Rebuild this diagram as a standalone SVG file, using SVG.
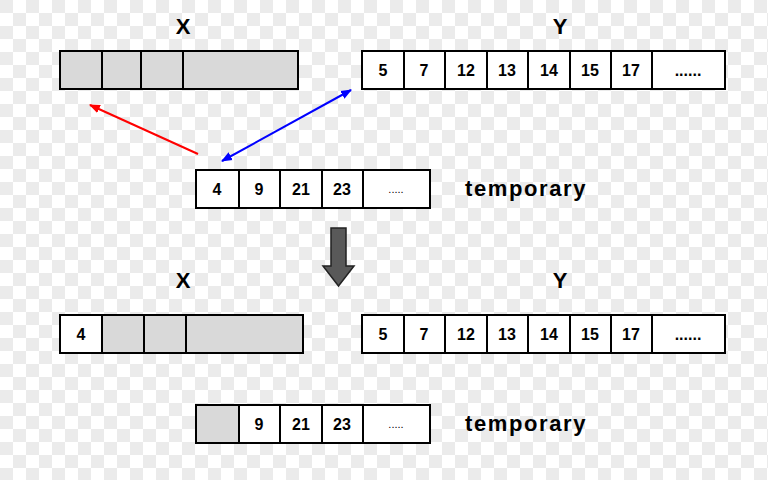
<svg xmlns="http://www.w3.org/2000/svg" width="768" height="480" viewBox="0 0 768 480">
<defs>
<pattern id="chk" width="26" height="26" patternUnits="userSpaceOnUse">
<rect width="26" height="26" fill="#fff"/>
<rect width="13" height="13" fill="#ebebeb"/>
<rect x="13" y="13" width="13" height="13" fill="#ebebeb"/>
</pattern>
<marker id="ar" viewBox="0 0 10 10" refX="9" refY="5" markerWidth="11" markerHeight="11" markerUnits="userSpaceOnUse" orient="auto-start-reverse"><path d="M0,1 L10,5 L0,9 z" fill="red"/></marker>
<marker id="ab" viewBox="0 0 10 10" refX="9" refY="5" markerWidth="11" markerHeight="11" markerUnits="userSpaceOnUse" orient="auto-start-reverse"><path d="M0,1 L10,5 L0,9 z" fill="blue"/></marker>
</defs>
<style>
.c{stroke:#000;stroke-width:2;fill:#fff}
.g{stroke:#000;stroke-width:2;fill:#d9d9d9}
.t{font-family:"Liberation Sans",Arial,sans-serif;font-weight:bold;font-size:16px;text-anchor:middle;dominant-baseline:central}
.d{font-family:"Liberation Sans",Arial,sans-serif;font-size:11px;text-anchor:middle;dominant-baseline:central}
.h{font-family:"Liberation Sans",Arial,sans-serif;font-weight:bold;font-size:22px;text-anchor:middle}
.l{font-family:"Liberation Sans",Arial,sans-serif;font-weight:bold;font-size:22px;letter-spacing:1.6px}
</style>
<rect width="768" height="480" fill="url(#chk)"/>
<text class="h" x="183" y="34">X</text>
<text class="h" x="560" y="34">Y</text>
<g id="x1">
<rect class="g" x="60" y="51" width="42" height="38"/><rect class="g" x="102" y="51" width="39" height="38"/><rect class="g" x="141" y="51" width="42" height="38"/><rect class="g" x="183" y="51" width="115" height="38"/>
</g>
<g id="y1">
<rect class="c" x="362" y="51" width="42" height="38"/><text class="t" x="383" y="70">5</text>
<rect class="c" x="404" y="51" width="41" height="38"/><text class="t" x="424" y="70">7</text>
<rect class="c" x="445" y="51" width="42" height="38"/><text class="t" x="466" y="70">12</text>
<rect class="c" x="487" y="51" width="41" height="38"/><text class="t" x="507" y="70">13</text>
<rect class="c" x="528" y="51" width="42" height="38"/><text class="t" x="549" y="70">14</text>
<rect class="c" x="570" y="51" width="41" height="38"/><text class="t" x="590" y="70">15</text>
<rect class="c" x="611" y="51" width="41" height="38"/><text class="t" x="631" y="70">17</text>
<rect class="c" x="652" y="51" width="73" height="38"/><text class="t" x="688" y="70">......</text>
</g>
<g id="t1">
<rect class="c" x="196" y="170" width="43" height="38"/><text class="t" x="217" y="189">4</text>
<rect class="c" x="239" y="170" width="41" height="38"/><text class="t" x="259" y="189">9</text>
<rect class="c" x="280" y="170" width="42" height="38"/><text class="t" x="301" y="189">21</text>
<rect class="c" x="322" y="170" width="41" height="38"/><text class="t" x="342" y="189">23</text>
<rect class="c" x="363" y="170" width="67" height="38"/><text class="d" x="396" y="189">.....</text>
</g>
<text class="l" x="465" y="196">temporary</text>
<g id="connectors">
<line x1="198" y1="154" x2="90" y2="105" stroke="red" stroke-width="2" marker-end="url(#ar)"/>
<line x1="222" y1="161" x2="351" y2="90" stroke="blue" stroke-width="2" marker-start="url(#ab)" marker-end="url(#ab)"/>
</g>
<g id="down"><path d="M331,228 H346 V266 H354 L338.5,286 L323,266 H331 Z" fill="#595959" stroke="#222" stroke-width="1.5"/></g>
<text class="h" x="183" y="288">X</text>
<text class="h" x="560" y="288">Y</text>
<g id="x2">
<rect class="c" x="60" y="315" width="42" height="38"/><text class="t" x="81" y="334">4</text>
<rect class="g" x="102" y="315" width="42" height="38"/><rect class="g" x="144" y="315" width="42" height="38"/><rect class="g" x="186" y="315" width="117" height="38"/>
</g>
<g id="y2">
<rect class="c" x="362" y="315" width="42" height="38"/><text class="t" x="383" y="334">5</text>
<rect class="c" x="404" y="315" width="41" height="38"/><text class="t" x="424" y="334">7</text>
<rect class="c" x="445" y="315" width="42" height="38"/><text class="t" x="466" y="334">12</text>
<rect class="c" x="487" y="315" width="41" height="38"/><text class="t" x="507" y="334">13</text>
<rect class="c" x="528" y="315" width="42" height="38"/><text class="t" x="549" y="334">14</text>
<rect class="c" x="570" y="315" width="41" height="38"/><text class="t" x="590" y="334">15</text>
<rect class="c" x="611" y="315" width="41" height="38"/><text class="t" x="631" y="334">17</text>
<rect class="c" x="652" y="315" width="73" height="38"/><text class="t" x="688" y="334">......</text>
</g>
<g id="t2">
<rect class="g" x="196" y="405" width="43" height="38"/>
<rect class="c" x="239" y="405" width="41" height="38"/><text class="t" x="259" y="424">9</text>
<rect class="c" x="280" y="405" width="42" height="38"/><text class="t" x="301" y="424">21</text>
<rect class="c" x="322" y="405" width="41" height="38"/><text class="t" x="342" y="424">23</text>
<rect class="c" x="363" y="405" width="67" height="38"/><text class="d" x="396" y="424">.....</text>
</g>
<text class="l" x="465" y="431">temporary</text>
</svg>
